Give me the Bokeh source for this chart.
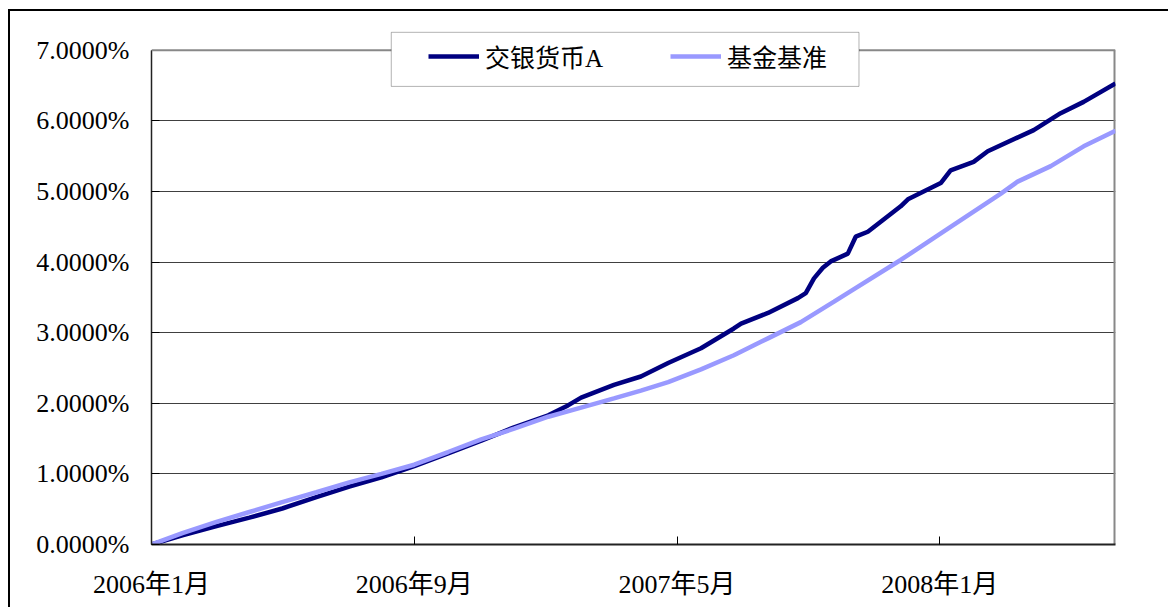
from bokeh.plotting import figure
from bokeh.models import (Range1d, FixedTicker, Legend, LegendItem, BoxAnnotation, Span)
from bokeh.embed import file_html
from bokeh.resources import INLINE

# ---- data (months since 2006-01, cumulative return in %) ----
fund_months = [0.00, 0.94, 1.98, 2.98, 3.98, 5.02, 6.02, 7.00, 8.00, 9.03, 10.04, 11.04,
               12.08, 12.68, 13.08, 14.08, 14.90, 15.73, 16.73, 17.73, 17.95, 18.77,
               19.68, 19.92, 20.17, 20.44, 20.68, 21.20, 21.44, 21.81, 22.81, 23.03,
               24.03, 24.33, 25.03, 25.46, 26.86, 27.68, 28.38, 29.35]
fund_values = [0.00, 0.13, 0.26, 0.38, 0.51, 0.67, 0.82, 0.95, 1.11, 1.29, 1.47, 1.66,
               1.83, 1.97, 2.08, 2.26, 2.38, 2.57, 2.78, 3.06, 3.13, 3.28,
               3.49, 3.56, 3.77, 3.92, 4.01, 4.12, 4.36, 4.43, 4.79, 4.89,
               5.12, 5.30, 5.42, 5.57, 5.87, 6.11, 6.27, 6.53]

bench_months = [0.00, 0.94, 1.98, 2.98, 3.98, 5.02, 6.02, 7.00, 8.00, 9.03, 10.04, 11.04,
                12.08, 13.08, 14.08, 14.90, 15.73, 16.73, 17.73, 18.77, 19.77, 20.78,
                21.29, 22.81, 24.33, 25.86, 26.37, 27.38, 28.38, 29.35]
bench_values = [0.00, 0.16, 0.32, 0.46, 0.60, 0.74, 0.88, 1.00, 1.13, 1.31, 1.49, 1.64,
                1.81, 1.94, 2.07, 2.18, 2.30, 2.48, 2.68, 2.92, 3.15, 3.44,
                3.59, 4.03, 4.50, 4.97, 5.14, 5.36, 5.64, 5.86]

series_names = ["交银货币A", "基金基准"]
x_tick_pos = [0, 8, 16, 24]
x_tick_labels = ["2006年1月", "2006年9月", "2007年5月", "2008年1月"]
y_tick_pos = [0, 1, 2, 3, 4, 5, 6, 7]
y_tick_labels = ["0.0000%", "1.0000%", "2.0000%", "3.0000%", "4.0000%",
                 "5.0000%", "6.0000%", "7.0000%"]

FONT = "Liberation Serif, Noto Sans CJK SC"
DARK = "#000080"
LIGHT = "#9999FF"
X_END = 29.35
Y_TOP = 7.55   # frame extends above the 7% line so the legend box fits inside

p = figure(width=1160, height=598, output_backend="svg", toolbar_location=None,
           x_range=Range1d(0, X_END), y_range=Range1d(0, Y_TOP),
           min_border_left=141, min_border_top=0, min_border_right=55,
           min_border_bottom=65)
p.styles = {"margin-left": "8px", "margin-top": "9px",
            "border-left": "2px solid black", "border-top": "2px solid black"}
p.outline_line_color = None
p.background_fill_color = "white"
p.border_fill_color = "white"

# axes
for ax in (p.xaxis[0], p.yaxis[0]):
    ax.major_label_text_font = FONT
    ax.major_label_text_font_size = "26px"
    ax.major_label_text_color = "black"
    ax.major_tick_in = 8
    ax.major_tick_out = 0
    ax.minor_tick_line_color = None
    ax.major_tick_line_color = "black"
    ax.major_tick_line_width = 1
    ax.axis_line_color = "#222222"

p.xaxis.ticker = FixedTicker(ticks=x_tick_pos)
p.xaxis.major_label_overrides = {t: l for t, l in zip(x_tick_pos, x_tick_labels)}
p.xaxis.axis_line_width = 2
p.xaxis.major_label_standoff = 25

p.yaxis.ticker = FixedTicker(ticks=y_tick_pos)
p.yaxis.major_label_overrides = {t: l for t, l in zip(y_tick_pos, y_tick_labels)}
p.yaxis.axis_line_width = 1.5
p.yaxis.major_label_standoff = 22
p.yaxis.bounds = (0, 7)

p.xgrid.grid_line_color = None
p.ygrid.ticker = FixedTicker(ticks=y_tick_pos[1:-1])
p.ygrid.grid_line_color = "#404040"
p.ygrid.grid_line_width = 1

# grey top and right edges of the plot area
p.add_layout(Span(location=7, dimension="width", line_color="#888888", line_width=2))
p.segment(x0=[X_END], y0=[0], x1=[X_END], y1=[7], line_color="#888888", line_width=4)

# series
r_fund = p.line(fund_months, fund_values, line_color=DARK, line_width=4.5)
r_bench = p.line(bench_months, bench_values, line_color=LIGHT, line_width=4.5)

# legend box
p.add_layout(BoxAnnotation(left=7.30, right=21.54, top=7.255, bottom=6.489,
                           fill_color="white", fill_alpha=1,
                           line_color="black", line_width=1))

legend = Legend(items=[LegendItem(label=series_names[0], renderers=[r_fund]),
                       LegendItem(label=series_names[1], renderers=[r_bench])],
                orientation="horizontal", location=(277, 470),
                border_line_color=None, background_fill_alpha=0,
                padding=0, margin=0, spacing=67, glyph_width=51, glyph_height=30,
                label_height=30, label_standoff=6,
                label_text_font=FONT, label_text_font_size="25px",
                label_text_color="black")
p.add_layout(legend)

open("out.html", "w").write(file_html(p, INLINE))
